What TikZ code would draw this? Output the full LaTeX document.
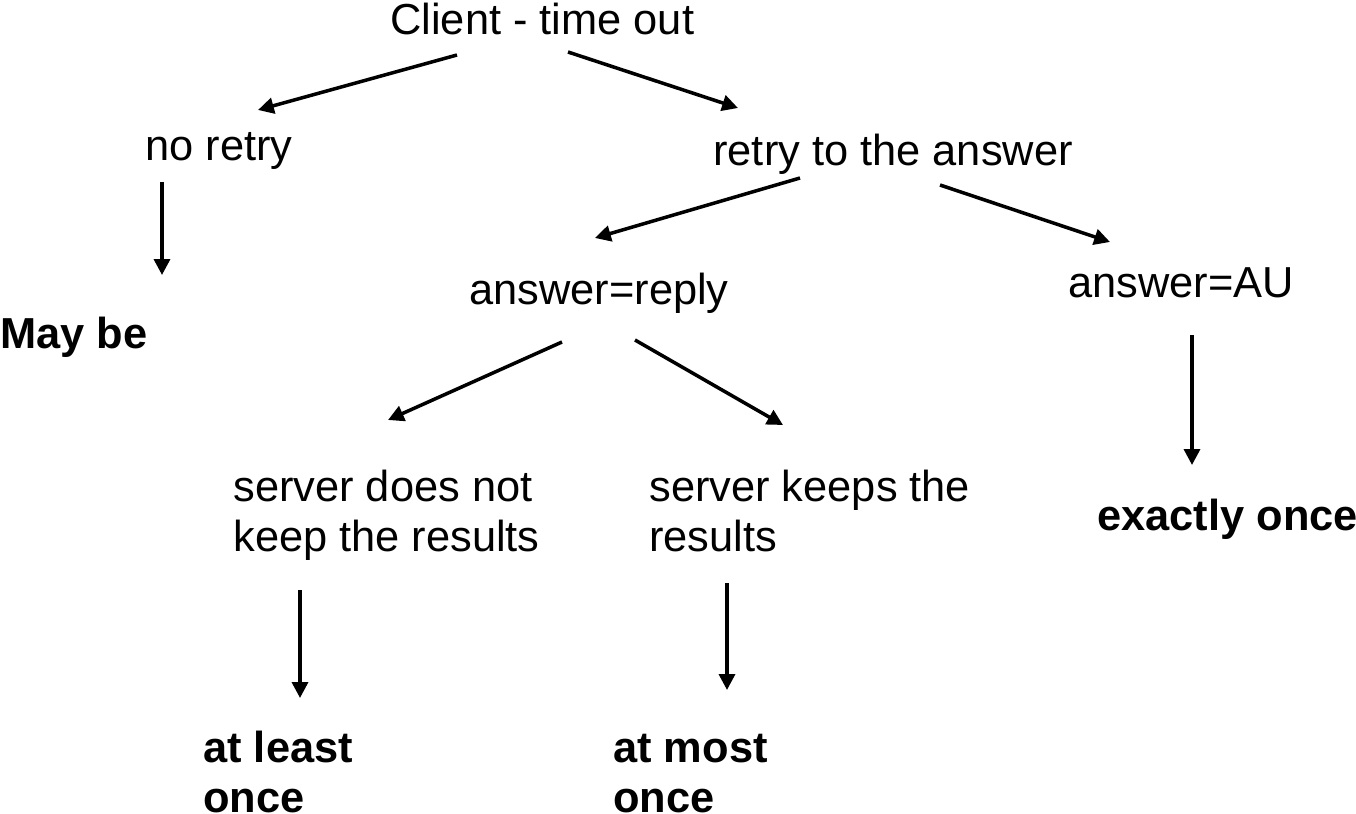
\documentclass[tikz,border=0pt]{standalone}
\usepackage{fontspec}
\setmainfont{Liberation Sans}
\usetikzlibrary{arrows.meta}
\begin{document}
\begin{tikzpicture}[x=0.02cm,y=-0.02cm,
  lbl/.style={inner sep=0pt,anchor=base west,align=left,font=\fontsize{24.7}{28.4}\selectfont},
  res/.style={lbl,font=\fontsize{24.7}{28.4}\selectfont\bfseries},
  arr/.style={line width=2pt,-{Triangle[length=9pt,width=9pt]}}]

\useasboundingbox (0,0) rectangle (1356,814);

% the cases
\node[lbl] (client) at (390,35) {Client - time out};
\node[lbl] (noretry) at (145,161) {no retry};
\node[lbl] (retry) at (713,166) {retry to the answer};
\node[lbl] (reply) at (469,305) {answer=reply};
\node[lbl] (au) at (1068,297) {answer=AU};
\node[lbl] (nokeep) at (233,551) {server does not\\keep the results};
\node[lbl] (keep) at (649,551) {server keeps the\\results};

% the outcomes
\node[res] (maybe) at (0,348) {May be};
\node[res] (atleast) at (203,812) {at least\\once};
\node[res] (atmost) at (613,812) {at most\\once};
\node[res] (exactly) at (1097,530) {exactly once};

% arrow ends
\coordinate (c1) at (457,55);   \coordinate (n1) at (258,110);
\coordinate (c2) at (568,52);   \coordinate (r1) at (738,108);
\coordinate (n2) at (162,182);  \coordinate (m1) at (162,275);
\coordinate (r2) at (800,178);  \coordinate (p1) at (595,238);
\coordinate (r3) at (940,185);  \coordinate (a1) at (1110,242);
\coordinate (p2) at (562,342);  \coordinate (s1) at (388,420);
\coordinate (p3) at (635,340);  \coordinate (k1) at (783,425);
\coordinate (a2) at (1192,335); \coordinate (e1) at (1192,465);
\coordinate (s2) at (300,590);  \coordinate (l1) at (300,698);
\coordinate (k2) at (727,583);  \coordinate (o1) at (727,690);

\draw[arr] (c1) -- (n1);
\draw[arr] (c2) -- (r1);
\draw[arr] (n2) -- (m1);
\draw[arr] (r2) -- (p1);
\draw[arr] (r3) -- (a1);
\draw[arr] (p2) -- (s1);
\draw[arr] (p3) -- (k1);
\draw[arr] (a2) -- (e1);
\draw[arr] (s2) -- (l1);
\draw[arr] (k2) -- (o1);

\end{tikzpicture}
\end{document}
